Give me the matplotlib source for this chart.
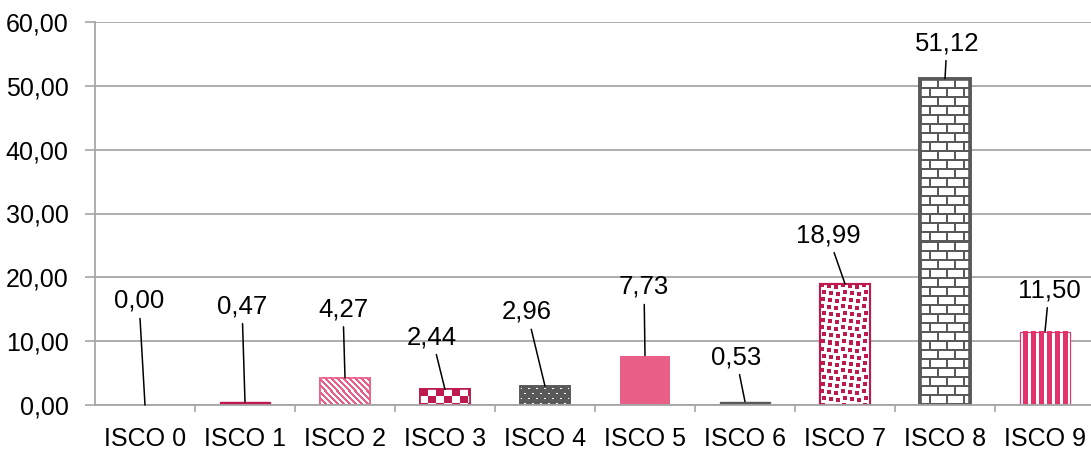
import numpy as np
import matplotlib
matplotlib.use("Agg")
import matplotlib.pyplot as plt
from matplotlib.colors import to_rgb

plt.rcParams['font.family'] = ['Liberation Sans', 'DejaVu Sans']

# --- DATA ---
categories = ["ISCO 0", "ISCO 1", "ISCO 2", "ISCO 3", "ISCO 4",
              "ISCO 5", "ISCO 6", "ISCO 7", "ISCO 8", "ISCO 9"]
values = [0.00, 0.47, 4.27, 2.44, 2.96, 7.73, 0.53, 18.99, 51.12, 11.50]
yticks = [0, 10, 20, 30, 40, 50, 60]

# label text positions (data coords) for the leader-line labels
label_x = [-0.06, 0.97, 1.98, 2.87, 3.82, 4.99, 5.91, 6.83, 8.02, 9.04]
label_y = [16.3, 15.5, 15.0, 10.65, 14.6, 18.5, 7.5, 26.6, 56.7, 18.0]

# --- STYLES ---
CRIMSON = "#be1a4d"
PINK = "#e95f88"
PINK2 = "#e2336b"
GRAY = "#595959"
GRID = "#a6a6a6"

patterns = [None, None, "diag", "checker", "dots", None, None, "confetti", "bricks", "vstripes"]
faces = ["none", CRIMSON, PINK, CRIMSON, GRAY, PINK, GRAY, CRIMSON, GRAY, PINK2]
edge_w = [0, 1, 1.2, 1.2, 1.2, 0, 1, 1.5, 2.6, 0.8]


def make_pattern(kind, h, w, color):
    c = np.array(to_rgb(color))
    white = np.ones(3)
    yy, xx = np.mgrid[0:h, 0:w]
    if kind == "diag":
        mask = ((xx - yy) % 6) < 3
        return np.where(mask[..., None], white, c)
    if kind == "checker":
        mask = ((xx // 8 + yy // 7) % 2) == 0
        return np.where(mask[..., None], c, white)
    if kind == "dots":
        row = yy // 5
        mask = ((yy % 5) == 2) & (((xx + (row % 2) * 4) % 8) < 2)
        return np.where(mask[..., None], white, c)
    if kind == "confetti":
        cell = 7
        row, col = yy // cell, xx // cell
        off_x = (row * 2 + col * 3) % 3
        off_y = (row * 3 + col) % 3
        lx, ly = xx % cell - off_x, yy % cell - off_y
        mask = (lx >= 0) & (lx < 4) & (ly >= 0) & (ly < 4)
        return np.where(mask[..., None], c, white)
    if kind == "bricks":
        rh, bw = 9, 17
        row = yy // rh
        hline = (yy % rh) < 2
        vline = ((xx + (row % 2) * (bw // 2)) % bw) < 2
        mask = hline | vline
        return np.where(mask[..., None], c, white)
    if kind == "vstripes":
        mask = (xx % 8) < 3
        return np.where(mask[..., None], white, c)
    return np.tile(c, (h, w, 1))


# --- FIGURE ---
fig = plt.figure(figsize=(10.91, 4.55), dpi=100)
ax = fig.add_axes([95 / 1091, 50 / 455, 1000 / 1091, 383 / 455])
x = np.arange(len(categories))
ax.set_xlim(-0.5, 9.5)
ax.set_ylim(0, 60)

bars = ax.bar(x, values, width=0.5, color=faces, edgecolor=faces,
              linewidth=edge_w, zorder=3)

# fill patterned bars pixel by pixel
fig.canvas.draw()
for bar, kind, col, lw in zip(bars, patterns, faces, edge_w):
    if kind is None or bar.get_height() <= 0:
        continue
    bb = bar.get_window_extent()
    w, h = int(round(bb.width)), int(round(bb.height))
    img = make_pattern(kind, h, w, col)
    ax.imshow(img, extent=(bar.get_x(), bar.get_x() + bar.get_width(), 0, bar.get_height()),
              origin="upper", interpolation="nearest", aspect="auto", zorder=3.5)
    ax.bar(bar.get_x() + bar.get_width() / 2, bar.get_height(), width=bar.get_width(),
           facecolor="none", edgecolor=col, linewidth=lw, zorder=4)

ax.set_xlim(-0.5, 9.5)
ax.set_ylim(0, 60)

# data labels with leader lines
for i, v in enumerate(values):
    ax.annotate(f"{v:.2f}".replace(".", ","), xy=(i, v), xytext=(label_x[i], label_y[i]),
                ha="center", va="center", fontsize=18.5, color="black", zorder=6,
                arrowprops=dict(arrowstyle="-", color="black", lw=1.1, shrinkA=2, shrinkB=0))

# axes styling
ax.set_yticks(yticks)
ax.set_yticklabels([f"{t:.2f}".replace(".", ",") for t in yticks])
ax.set_xticks(x)
ax.set_xticklabels(categories)
ax.set_xticks(np.arange(-0.5, 10, 1)[1:], minor=True)
ax.tick_params(axis="x", which="major", length=0, pad=16, labelsize=18)
ax.tick_params(axis="x", which="minor", length=5, width=1.2, color=GRID, direction="out")
ax.tick_params(axis="y", length=7, width=1.2, color=GRID, pad=12, labelsize=18)
ax.yaxis.grid(True, color=GRID, linewidth=1.3)
ax.set_axisbelow(True)
for s in ["top", "right"]:
    ax.spines[s].set_visible(False)
for s in ["left", "bottom"]:
    ax.spines[s].set_color(GRID)
    ax.spines[s].set_linewidth(1.3)
    ax.spines[s].set_zorder(5)

fig.savefig("out.png", dpi=100)
